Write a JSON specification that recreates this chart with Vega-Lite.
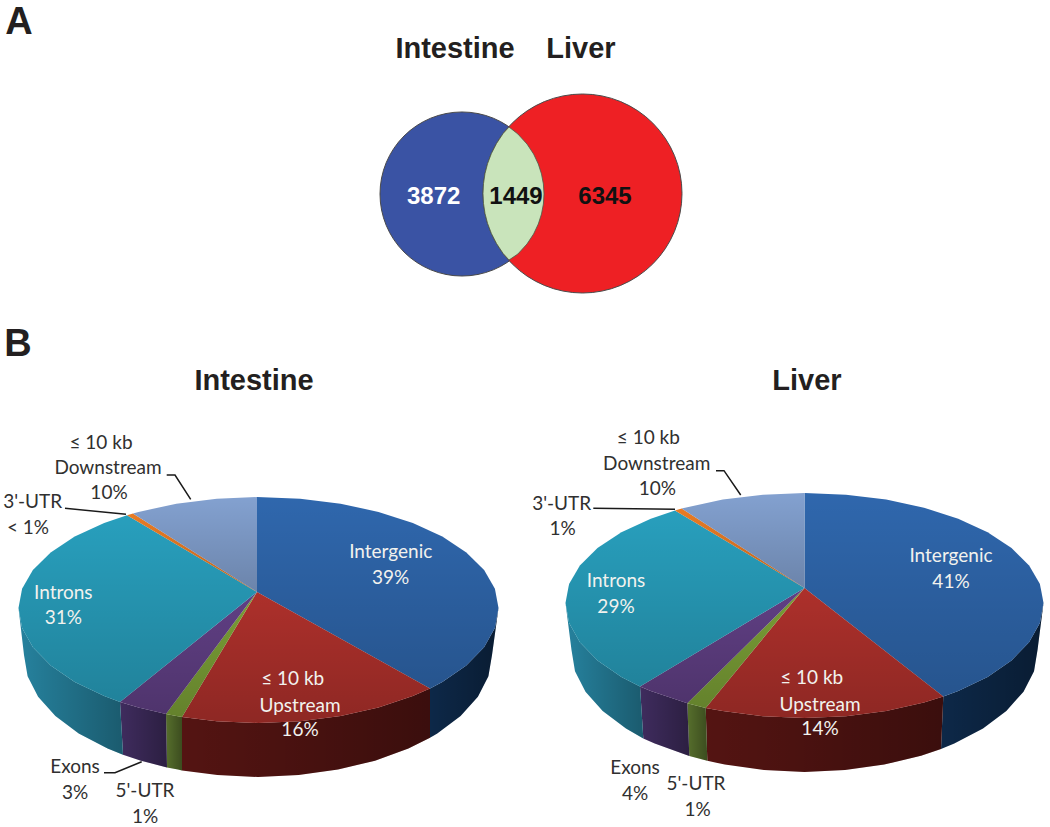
{
"$schema":"https://vega.github.io/schema/vega-lite/v6.json",
"width":1050,"height":827,"padding":0,"autosize":{"type":"none"},"background":"white",
"view":{"stroke":null},
"resolve":{"scale":{"fill":"independent"}},
"datasets":{
"circles":[{"name":"Intestine","x":462,"y":194},{"name":"Liver","x":582.5,"y":193.5}],
"lens":[{"i":0,"x":509,"y":127},{"i":1,"x":517.9,"y":134},{"i":2,"x":527,"y":144},{"i":3,"x":533.6,"y":154},{"i":4,"x":538.3,"y":164},{"i":5,"x":541.5,"y":174},{"i":6,"x":543.4,"y":184},{"i":7,"x":544,"y":194},{"i":8,"x":543.4,"y":204},{"i":9,"x":541.5,"y":214},{"i":10,"x":538.3,"y":224},{"i":11,"x":533.6,"y":234},{"i":12,"x":527,"y":244},{"i":13,"x":517.9,"y":254},{"i":14,"x":509,"y":260},{"i":15,"x":503.1,"y":253.5},{"i":16,"x":496.5,"y":243.5},{"i":17,"x":491.4,"y":233.5},{"i":18,"x":487.6,"y":223.5},{"i":19,"x":485,"y":213.5},{"i":20,"x":483.5,"y":203.5},{"i":21,"x":483,"y":193.5},{"i":22,"x":483.5,"y":183.5},{"i":23,"x":485,"y":173.5},{"i":24,"x":487.6,"y":163.5},{"i":25,"x":491.4,"y":153.5},{"i":26,"x":496.5,"y":143.5},{"i":27,"x":503.1,"y":133.5},{"i":28,"x":509,"y":127}],
"top":[
{"pie":"Intestine","part":"Intergenic","i":0,"x":257,"y":592},{"pie":"Intestine","part":"Intergenic","i":1,"x":257,"y":497},{"pie":"Intestine","part":"Intergenic","i":2,"x":300.2,"y":498.7},{"pie":"Intestine","part":"Intergenic","i":3,"x":340.6,"y":503.7},{"pie":"Intestine","part":"Intergenic","i":4,"x":378.5,"y":511.9},{"pie":"Intestine","part":"Intergenic","i":5,"x":412.8,"y":523},{"pie":"Intestine","part":"Intergenic","i":6,"x":442.3,"y":536.6},{"pie":"Intestine","part":"Intergenic","i":7,"x":466.3,"y":552.5},{"pie":"Intestine","part":"Intergenic","i":8,"x":484.1,"y":570},{"pie":"Intestine","part":"Intergenic","i":9,"x":494.9,"y":588.7},{"pie":"Intestine","part":"Intergenic","i":10,"x":498.5,"y":608},{"pie":"Intestine","part":"Intergenic","i":11,"x":494.9,"y":628},{"pie":"Intestine","part":"Intergenic","i":12,"x":484.1,"y":647.3},{"pie":"Intestine","part":"Intergenic","i":13,"x":466.3,"y":665.5},{"pie":"Intestine","part":"Intergenic","i":14,"x":442.3,"y":681.9},{"pie":"Intestine","part":"Intergenic","i":15,"x":430,"y":688.4},
{"pie":"Intestine","part":"Upstream","i":0,"x":257,"y":592},{"pie":"Intestine","part":"Upstream","i":1,"x":430,"y":688.4},{"pie":"Intestine","part":"Upstream","i":2,"x":412.8,"y":696.1},{"pie":"Intestine","part":"Upstream","i":3,"x":378.5,"y":707.6},{"pie":"Intestine","part":"Upstream","i":4,"x":340.6,"y":716.1},{"pie":"Intestine","part":"Upstream","i":5,"x":300.2,"y":721.3},{"pie":"Intestine","part":"Upstream","i":6,"x":258.5,"y":723},{"pie":"Intestine","part":"Upstream","i":7,"x":216.8,"y":721.3},{"pie":"Intestine","part":"Upstream","i":8,"x":182,"y":717},
{"pie":"Intestine","part":"UTR5","i":0,"x":257,"y":592},{"pie":"Intestine","part":"UTR5","i":1,"x":182,"y":717},{"pie":"Intestine","part":"UTR5","i":2,"x":176.4,"y":716.1},{"pie":"Intestine","part":"UTR5","i":3,"x":166,"y":714.1},
{"pie":"Intestine","part":"Exons","i":0,"x":257,"y":592},{"pie":"Intestine","part":"Exons","i":1,"x":166,"y":714.1},{"pie":"Intestine","part":"Exons","i":2,"x":138.5,"y":707.6},{"pie":"Intestine","part":"Exons","i":3,"x":120,"y":702},
{"pie":"Intestine","part":"Introns","i":0,"x":257,"y":592},{"pie":"Intestine","part":"Introns","i":1,"x":120,"y":702},{"pie":"Intestine","part":"Introns","i":2,"x":104.2,"y":696.1},{"pie":"Intestine","part":"Introns","i":3,"x":74.7,"y":681.9},{"pie":"Intestine","part":"Introns","i":4,"x":50.7,"y":665.5},{"pie":"Intestine","part":"Introns","i":5,"x":32.9,"y":647.3},{"pie":"Intestine","part":"Introns","i":6,"x":22.1,"y":628},{"pie":"Intestine","part":"Introns","i":7,"x":18.5,"y":608},{"pie":"Intestine","part":"Introns","i":8,"x":22.1,"y":588.7},{"pie":"Intestine","part":"Introns","i":9,"x":32.9,"y":570},{"pie":"Intestine","part":"Introns","i":10,"x":50.7,"y":552.5},{"pie":"Intestine","part":"Introns","i":11,"x":74.7,"y":536.6},{"pie":"Intestine","part":"Introns","i":12,"x":104.2,"y":523},{"pie":"Intestine","part":"Introns","i":13,"x":127,"y":515.2},
{"pie":"Intestine","part":"UTR3","i":0,"x":257,"y":592},{"pie":"Intestine","part":"UTR3","i":1,"x":127,"y":515.2},{"pie":"Intestine","part":"UTR3","i":2,"x":133,"y":513.4},
{"pie":"Intestine","part":"Downstream","i":0,"x":257,"y":592},{"pie":"Intestine","part":"Downstream","i":1,"x":133,"y":513.4},{"pie":"Intestine","part":"Downstream","i":2,"x":138.5,"y":511.9},{"pie":"Intestine","part":"Downstream","i":3,"x":176.4,"y":503.7},{"pie":"Intestine","part":"Downstream","i":4,"x":216.8,"y":498.7},{"pie":"Intestine","part":"Downstream","i":5,"x":257,"y":497},
{"pie":"Liver","part":"Intergenic","i":0,"x":804.5,"y":588},{"pie":"Liver","part":"Intergenic","i":1,"x":804.5,"y":493},{"pie":"Liver","part":"Intergenic","i":2,"x":846,"y":494.7},{"pie":"Liver","part":"Intergenic","i":3,"x":886.2,"y":499.6},{"pie":"Liver","part":"Intergenic","i":4,"x":924,"y":507.7},{"pie":"Liver","part":"Intergenic","i":5,"x":958.2,"y":518.7},{"pie":"Liver","part":"Intergenic","i":6,"x":987.6,"y":532.3},{"pie":"Liver","part":"Intergenic","i":7,"x":1011.5,"y":548},{"pie":"Liver","part":"Intergenic","i":8,"x":1029.1,"y":565.4},{"pie":"Liver","part":"Intergenic","i":9,"x":1039.9,"y":583.9},{"pie":"Liver","part":"Intergenic","i":10,"x":1043.5,"y":603},{"pie":"Liver","part":"Intergenic","i":11,"x":1039.9,"y":623},{"pie":"Liver","part":"Intergenic","i":12,"x":1029.1,"y":642.3},{"pie":"Liver","part":"Intergenic","i":13,"x":1011.5,"y":660.5},{"pie":"Liver","part":"Intergenic","i":14,"x":987.6,"y":676.9},{"pie":"Liver","part":"Intergenic","i":15,"x":958.2,"y":691.1},{"pie":"Liver","part":"Intergenic","i":16,"x":943.3,"y":696.6},
{"pie":"Liver","part":"Upstream","i":0,"x":804.5,"y":588},{"pie":"Liver","part":"Upstream","i":1,"x":943.3,"y":696.6},{"pie":"Liver","part":"Upstream","i":2,"x":924,"y":702.6},{"pie":"Liver","part":"Upstream","i":3,"x":886.2,"y":711.1},{"pie":"Liver","part":"Upstream","i":4,"x":846,"y":716.3},{"pie":"Liver","part":"Upstream","i":5,"x":804.5,"y":718},{"pie":"Liver","part":"Upstream","i":6,"x":763,"y":716.3},{"pie":"Liver","part":"Upstream","i":7,"x":722.8,"y":711.1},{"pie":"Liver","part":"Upstream","i":8,"x":705.7,"y":708},
{"pie":"Liver","part":"UTR5","i":0,"x":804.5,"y":588},{"pie":"Liver","part":"UTR5","i":1,"x":705.7,"y":708},{"pie":"Liver","part":"UTR5","i":2,"x":687.3,"y":703.2},
{"pie":"Liver","part":"Exons","i":0,"x":804.5,"y":588},{"pie":"Liver","part":"Exons","i":1,"x":687.3,"y":703.2},{"pie":"Liver","part":"Exons","i":2,"x":650.8,"y":691.1},{"pie":"Liver","part":"Exons","i":3,"x":640,"y":686.4},
{"pie":"Liver","part":"Introns","i":0,"x":804.5,"y":588},{"pie":"Liver","part":"Introns","i":1,"x":640,"y":686.4},{"pie":"Liver","part":"Introns","i":2,"x":621.4,"y":676.9},{"pie":"Liver","part":"Introns","i":3,"x":597.5,"y":660.5},{"pie":"Liver","part":"Introns","i":4,"x":579.9,"y":642.3},{"pie":"Liver","part":"Introns","i":5,"x":569.1,"y":623},{"pie":"Liver","part":"Introns","i":6,"x":565.5,"y":603},{"pie":"Liver","part":"Introns","i":7,"x":569.1,"y":583.9},{"pie":"Liver","part":"Introns","i":8,"x":579.9,"y":565.4},{"pie":"Liver","part":"Introns","i":9,"x":597.5,"y":548},{"pie":"Liver","part":"Introns","i":10,"x":621.4,"y":532.3},{"pie":"Liver","part":"Introns","i":11,"x":650.8,"y":518.7},{"pie":"Liver","part":"Introns","i":12,"x":675,"y":510.6},
{"pie":"Liver","part":"UTR3","i":0,"x":804.5,"y":588},{"pie":"Liver","part":"UTR3","i":1,"x":675,"y":510.6},{"pie":"Liver","part":"UTR3","i":2,"x":681.7,"y":508.6},
{"pie":"Liver","part":"Downstream","i":0,"x":804.5,"y":588},{"pie":"Liver","part":"Downstream","i":1,"x":681.7,"y":508.6},{"pie":"Liver","part":"Downstream","i":2,"x":685,"y":507.7},{"pie":"Liver","part":"Downstream","i":3,"x":722.8,"y":499.6},{"pie":"Liver","part":"Downstream","i":4,"x":763,"y":494.7},{"pie":"Liver","part":"Downstream","i":5,"x":804.5,"y":493}
],
"wall":[
{"pie":"Intestine","part":"Intergenic","i":0,"x":498.5,"y":608},{"pie":"Intestine","part":"Intergenic","i":1,"x":494.9,"y":628},{"pie":"Intestine","part":"Intergenic","i":2,"x":484.1,"y":647.3},{"pie":"Intestine","part":"Intergenic","i":3,"x":466.3,"y":665.5},{"pie":"Intestine","part":"Intergenic","i":4,"x":442.3,"y":681.9},{"pie":"Intestine","part":"Intergenic","i":5,"x":430,"y":688.4},{"pie":"Intestine","part":"Intergenic","i":6,"x":430,"y":737.7},{"pie":"Intestine","part":"Intergenic","i":7,"x":437.3,"y":733.4},{"pie":"Intestine","part":"Intergenic","i":8,"x":460.6,"y":716},{"pie":"Intestine","part":"Intergenic","i":9,"x":477.9,"y":696.7},{"pie":"Intestine","part":"Intergenic","i":10,"x":488.4,"y":676.2},{"pie":"Intestine","part":"Intergenic","i":11,"x":492,"y":655},
{"pie":"Intestine","part":"Upstream","i":0,"x":430,"y":688.4},{"pie":"Intestine","part":"Upstream","i":1,"x":412.8,"y":696.1},{"pie":"Intestine","part":"Upstream","i":2,"x":378.5,"y":707.6},{"pie":"Intestine","part":"Upstream","i":3,"x":340.6,"y":716.1},{"pie":"Intestine","part":"Upstream","i":4,"x":300.2,"y":721.3},{"pie":"Intestine","part":"Upstream","i":5,"x":258.5,"y":723},{"pie":"Intestine","part":"Upstream","i":6,"x":216.8,"y":721.3},{"pie":"Intestine","part":"Upstream","i":7,"x":182,"y":717},{"pie":"Intestine","part":"Upstream","i":8,"x":182,"y":770.4},{"pie":"Intestine","part":"Upstream","i":9,"x":217.4,"y":775.1},{"pie":"Intestine","part":"Upstream","i":10,"x":258,"y":777},{"pie":"Intestine","part":"Upstream","i":11,"x":298.6,"y":775.1},{"pie":"Intestine","part":"Upstream","i":12,"x":338,"y":769.6},{"pie":"Intestine","part":"Upstream","i":13,"x":375,"y":760.7},{"pie":"Intestine","part":"Upstream","i":14,"x":408.4,"y":748.5},{"pie":"Intestine","part":"Upstream","i":15,"x":430,"y":737.7},
{"pie":"Intestine","part":"UTR5","i":0,"x":182,"y":717},{"pie":"Intestine","part":"UTR5","i":1,"x":176.4,"y":716.1},{"pie":"Intestine","part":"UTR5","i":2,"x":166,"y":714.1},{"pie":"Intestine","part":"UTR5","i":3,"x":167,"y":767.4},{"pie":"Intestine","part":"UTR5","i":4,"x":178,"y":769.6},{"pie":"Intestine","part":"UTR5","i":5,"x":182,"y":770.4},
{"pie":"Intestine","part":"Exons","i":0,"x":166,"y":714.1},{"pie":"Intestine","part":"Exons","i":1,"x":138.5,"y":707.6},{"pie":"Intestine","part":"Exons","i":2,"x":120,"y":702},{"pie":"Intestine","part":"Exons","i":3,"x":123,"y":754.7},{"pie":"Intestine","part":"Exons","i":4,"x":141,"y":760.7},{"pie":"Intestine","part":"Exons","i":5,"x":167,"y":767.4},
{"pie":"Intestine","part":"Introns","i":0,"x":120,"y":702},{"pie":"Intestine","part":"Introns","i":1,"x":104.2,"y":696.1},{"pie":"Intestine","part":"Introns","i":2,"x":74.7,"y":681.9},{"pie":"Intestine","part":"Introns","i":3,"x":50.7,"y":665.5},{"pie":"Intestine","part":"Introns","i":4,"x":32.9,"y":647.3},{"pie":"Intestine","part":"Introns","i":5,"x":22.1,"y":628},{"pie":"Intestine","part":"Introns","i":6,"x":18.5,"y":608},{"pie":"Intestine","part":"Introns","i":7,"x":24,"y":655},{"pie":"Intestine","part":"Introns","i":8,"x":27.6,"y":676.2},{"pie":"Intestine","part":"Introns","i":9,"x":38.1,"y":696.7},{"pie":"Intestine","part":"Introns","i":10,"x":55.4,"y":716},{"pie":"Intestine","part":"Introns","i":11,"x":78.7,"y":733.4},{"pie":"Intestine","part":"Introns","i":12,"x":107.6,"y":748.5},{"pie":"Intestine","part":"Introns","i":13,"x":123,"y":754.7},
{"pie":"Liver","part":"Intergenic","i":0,"x":1043.5,"y":603},{"pie":"Liver","part":"Intergenic","i":1,"x":1039.9,"y":623},{"pie":"Liver","part":"Intergenic","i":2,"x":1029.1,"y":642.3},{"pie":"Liver","part":"Intergenic","i":3,"x":1011.5,"y":660.5},{"pie":"Liver","part":"Intergenic","i":4,"x":987.6,"y":676.9},{"pie":"Liver","part":"Intergenic","i":5,"x":958.2,"y":691.1},{"pie":"Liver","part":"Intergenic","i":6,"x":943.3,"y":696.6},{"pie":"Liver","part":"Intergenic","i":7,"x":941,"y":748.9},{"pie":"Liver","part":"Intergenic","i":8,"x":954.3,"y":743.5},{"pie":"Liver","part":"Intergenic","i":9,"x":983,"y":728.4},{"pie":"Liver","part":"Intergenic","i":10,"x":1006.3,"y":711},{"pie":"Liver","part":"Intergenic","i":11,"x":1023.5,"y":691.7},{"pie":"Liver","part":"Intergenic","i":12,"x":1034,"y":671.2},{"pie":"Liver","part":"Intergenic","i":13,"x":1037.5,"y":650},
{"pie":"Liver","part":"Upstream","i":0,"x":943.3,"y":696.6},{"pie":"Liver","part":"Upstream","i":1,"x":924,"y":702.6},{"pie":"Liver","part":"Upstream","i":2,"x":886.2,"y":711.1},{"pie":"Liver","part":"Upstream","i":3,"x":846,"y":716.3},{"pie":"Liver","part":"Upstream","i":4,"x":804.5,"y":718},{"pie":"Liver","part":"Upstream","i":5,"x":763,"y":716.3},{"pie":"Liver","part":"Upstream","i":6,"x":722.8,"y":711.1},{"pie":"Liver","part":"Upstream","i":7,"x":705.7,"y":708},{"pie":"Liver","part":"Upstream","i":8,"x":707.3,"y":760.8},{"pie":"Liver","part":"Upstream","i":9,"x":724.8,"y":764.6},{"pie":"Liver","part":"Upstream","i":10,"x":764,"y":770.1},{"pie":"Liver","part":"Upstream","i":11,"x":804.5,"y":772},{"pie":"Liver","part":"Upstream","i":12,"x":845,"y":770.1},{"pie":"Liver","part":"Upstream","i":13,"x":884.2,"y":764.6},{"pie":"Liver","part":"Upstream","i":14,"x":921,"y":755.7},{"pie":"Liver","part":"Upstream","i":15,"x":941,"y":748.9},
{"pie":"Liver","part":"UTR5","i":0,"x":705.7,"y":708},{"pie":"Liver","part":"UTR5","i":1,"x":687.3,"y":703.2},{"pie":"Liver","part":"UTR5","i":2,"x":689.3,"y":755.9},{"pie":"Liver","part":"UTR5","i":3,"x":707.3,"y":760.8},
{"pie":"Liver","part":"Exons","i":0,"x":687.3,"y":703.2},{"pie":"Liver","part":"Exons","i":1,"x":650.8,"y":691.1},{"pie":"Liver","part":"Exons","i":2,"x":640,"y":686.4},{"pie":"Liver","part":"Exons","i":3,"x":643.3,"y":738.5},{"pie":"Liver","part":"Exons","i":4,"x":654.7,"y":743.5},{"pie":"Liver","part":"Exons","i":5,"x":689.3,"y":755.9},
{"pie":"Liver","part":"Introns","i":0,"x":640,"y":686.4},{"pie":"Liver","part":"Introns","i":1,"x":621.4,"y":676.9},{"pie":"Liver","part":"Introns","i":2,"x":597.5,"y":660.5},{"pie":"Liver","part":"Introns","i":3,"x":579.9,"y":642.3},{"pie":"Liver","part":"Introns","i":4,"x":569.1,"y":623},{"pie":"Liver","part":"Introns","i":5,"x":565.5,"y":603},{"pie":"Liver","part":"Introns","i":6,"x":571.5,"y":650},{"pie":"Liver","part":"Introns","i":7,"x":575,"y":671.2},{"pie":"Liver","part":"Introns","i":8,"x":585.5,"y":691.7},{"pie":"Liver","part":"Introns","i":9,"x":602.7,"y":711},{"pie":"Liver","part":"Introns","i":10,"x":626,"y":728.4},{"pie":"Liver","part":"Introns","i":11,"x":643.3,"y":738.5}
],
"leaders":[
{"id":"a","i":0,"x":166.7,"y":475},{"id":"a","i":1,"x":175,"y":475},{"id":"a","i":2,"x":190.7,"y":499.3},
{"id":"b","i":0,"x":65,"y":508.3},{"id":"b","i":1,"x":126,"y":514.3},
{"id":"c","i":0,"x":104,"y":772.7},{"id":"c","i":1,"x":115,"y":772.7},{"id":"c","i":2,"x":141.7,"y":761.7},
{"id":"d","i":0,"x":716,"y":470.7},{"id":"d","i":1,"x":724,"y":470.7},{"id":"d","i":2,"x":740.7,"y":495},
{"id":"e","i":0,"x":593.3,"y":508.3},{"id":"e","i":1,"x":675,"y":509.3}
],
"heads":[
{"t":"A","x":19,"y":23,"s":"p"},{"t":"B","x":18,"y":345,"s":"p"},
{"t":"Intestine","x":455,"y":49,"s":"h"},{"t":"Liver","x":581,"y":49,"s":"h"},
{"t":"Intestine","x":254,"y":381,"s":"h"},{"t":"Liver","x":807,"y":381,"s":"h"}
],
"venn":[{"t":"3872","x":433.7,"y":197,"c":"w"},{"t":"1449","x":516,"y":197,"c":"k"},{"t":"6345","x":605,"y":197,"c":"k"}],
"labels":[
{"t":"≤ 10 kb","x":101,"y":442.7,"c":"out"},{"t":"Downstream","x":108,"y":468,"c":"out"},{"t":"10%","x":109,"y":493,"c":"out"},{"t":"3'-UTR","x":32.7,"y":502,"c":"out"},{"t":"< 1%","x":28,"y":527.7,"c":"out"},{"t":"Intergenic","x":390.7,"y":551.7,"c":"in"},{"t":"39%","x":390.7,"y":577.7,"c":"in"},{"t":"Introns","x":63.3,"y":592.7,"c":"in"},{"t":"31%","x":63.3,"y":618.3,"c":"in"},{"t":"≤ 10 kb","x":292.7,"y":679.3,"c":"in"},{"t":"Upstream","x":300,"y":705.7,"c":"in"},{"t":"16%","x":300,"y":730,"c":"in"},{"t":"Exons","x":75,"y":767.3,"c":"out"},{"t":"3%","x":75,"y":793.3,"c":"out"},{"t":"5'-UTR","x":145,"y":790.7,"c":"out"},{"t":"1%","x":145,"y":816.7,"c":"out"},
{"t":"≤ 10 kb","x":648.3,"y":438.3,"c":"out"},{"t":"Downstream","x":656.7,"y":464.3,"c":"out"},{"t":"10%","x":657.3,"y":489.3,"c":"out"},{"t":"3'-UTR","x":561.7,"y":504,"c":"out"},{"t":"1%","x":562.7,"y":529.3,"c":"out"},{"t":"Intergenic","x":951,"y":555.7,"c":"in"},{"t":"41%","x":951,"y":581.7,"c":"in"},{"t":"Introns","x":616,"y":580.7,"c":"in"},{"t":"29%","x":616,"y":606.7,"c":"in"},{"t":"≤ 10 kb","x":811.7,"y":678.3,"c":"in"},{"t":"Upstream","x":820,"y":705,"c":"in"},{"t":"14%","x":820,"y":729.3,"c":"in"},{"t":"Exons","x":635,"y":768.3,"c":"out"},{"t":"4%","x":635,"y":794.3,"c":"out"},{"t":"5'-UTR","x":696,"y":784,"c":"out"},{"t":"1%","x":697.7,"y":810,"c":"out"}
]
},
"encoding":{
"x":{"field":"x","type":"quantitative","scale":{"domain":[0,1050],"nice":false,"zero":false},"axis":null},
"y":{"field":"y","type":"quantitative","scale":{"domain":[827,0],"nice":false,"zero":false},"axis":null}
},
"layer":[
{"data":{"name":"circles"},"mark":{"type":"point","shape":"circle","filled":true,"stroke":"#4a4a4a","strokeWidth":1,"opacity":1},
"encoding":{"fill":{"field":"name","type":"nominal","scale":{"domain":["Intestine","Liver"],"range":["#3a53a4","#ee2024"]},"legend":null},
"size":{"field":"name","type":"nominal","scale":{"domain":["Intestine","Liver"],"range":[26896,39601]},"legend":null}}},
{"data":{"name":"lens"},"mark":{"type":"line","fill":"#c9e4bb","stroke":"#4a5a48","strokeWidth":0.8},"encoding":{"order":{"field":"i","type":"quantitative"}}},
{"data":{"name":"wall"},"mark":{"type":"line","strokeWidth":0},
"encoding":{"order":{"field":"i","type":"quantitative"},"detail":{"field":"pie"},
"fill":{"field":"part","type":"nominal","legend":null,"scale":{"domain":["Intergenic","Upstream","UTR5","Exons","Introns"],"range":["#0d2848","#541412","#566e2c","#3f2c5e","#26829e"]}}}},
{"data":{"name":"wall"},"mark":{"type":"line","strokeWidth":0,"fill":{"gradient":"linear","x1":0,"y1":0,"x2":1,"y2":0,"stops":[{"offset":0,"color":"rgba(0,0,0,0)"},{"offset":1,"color":"rgba(0,0,0,0.3)"}]}},
"encoding":{"order":{"field":"i","type":"quantitative"},"detail":[{"field":"pie"},{"field":"part"}]}},
{"data":{"name":"top"},"mark":{"type":"line","strokeWidth":0},
"encoding":{"order":{"field":"i","type":"quantitative"},"detail":{"field":"pie"},
"fill":{"field":"part","type":"nominal","legend":null,"scale":{"domain":["Intergenic","Upstream","UTR5","Exons","Introns","UTR3","Downstream"],"range":["#2f67ad","#ad302b","#7a9e36","#603f84","#289fbd","#e87b24","#83a1d0"]}}}},
{"data":{"name":"top"},"mark":{"type":"line","strokeWidth":0,"fill":{"gradient":"linear","x1":0,"y1":0,"x2":0,"y2":1,"stops":[{"offset":0,"color":"rgba(0,0,0,0)"},{"offset":1,"color":"rgba(0,0,0,0.18)"}]}},
"encoding":{"order":{"field":"i","type":"quantitative"},"detail":[{"field":"pie"},{"field":"part"}]}},
{"data":{"name":"leaders"},"mark":{"type":"line","stroke":"#1a1a1a","strokeWidth":1.5},"encoding":{"order":{"field":"i","type":"quantitative"},"detail":{"field":"id"}}},
{"data":{"name":"heads"},"transform":[{"filter":"datum.s==='p'"}],"mark":{"type":"text","font":"Liberation Sans","fontWeight":"bold","fontSize":38,"baseline":"middle","align":"center","fill":"#231f20"},"encoding":{"text":{"field":"t"}}},
{"data":{"name":"heads"},"transform":[{"filter":"datum.s==='h'"}],"mark":{"type":"text","font":"Liberation Sans","fontWeight":"bold","fontSize":29,"baseline":"middle","align":"center","fill":"#231f20"},"encoding":{"text":{"field":"t"}}},
{"data":{"name":"venn"},"mark":{"type":"text","font":"Liberation Sans","fontWeight":"bold","fontSize":24,"baseline":"middle","align":"center"},
"encoding":{"text":{"field":"t"},"fill":{"field":"c","type":"nominal","legend":null,"scale":{"domain":["w","k"],"range":["#ffffff","#111111"]}}}},
{"data":{"name":"labels"},"mark":{"type":"text","font":"Lato","fontSize":19,"baseline":"middle","align":"center"},
"encoding":{"text":{"field":"t"},"fill":{"field":"c","type":"nominal","legend":null,"scale":{"domain":["out","in"],"range":["#303030","#f2f2ee"]}}}}
]
}
